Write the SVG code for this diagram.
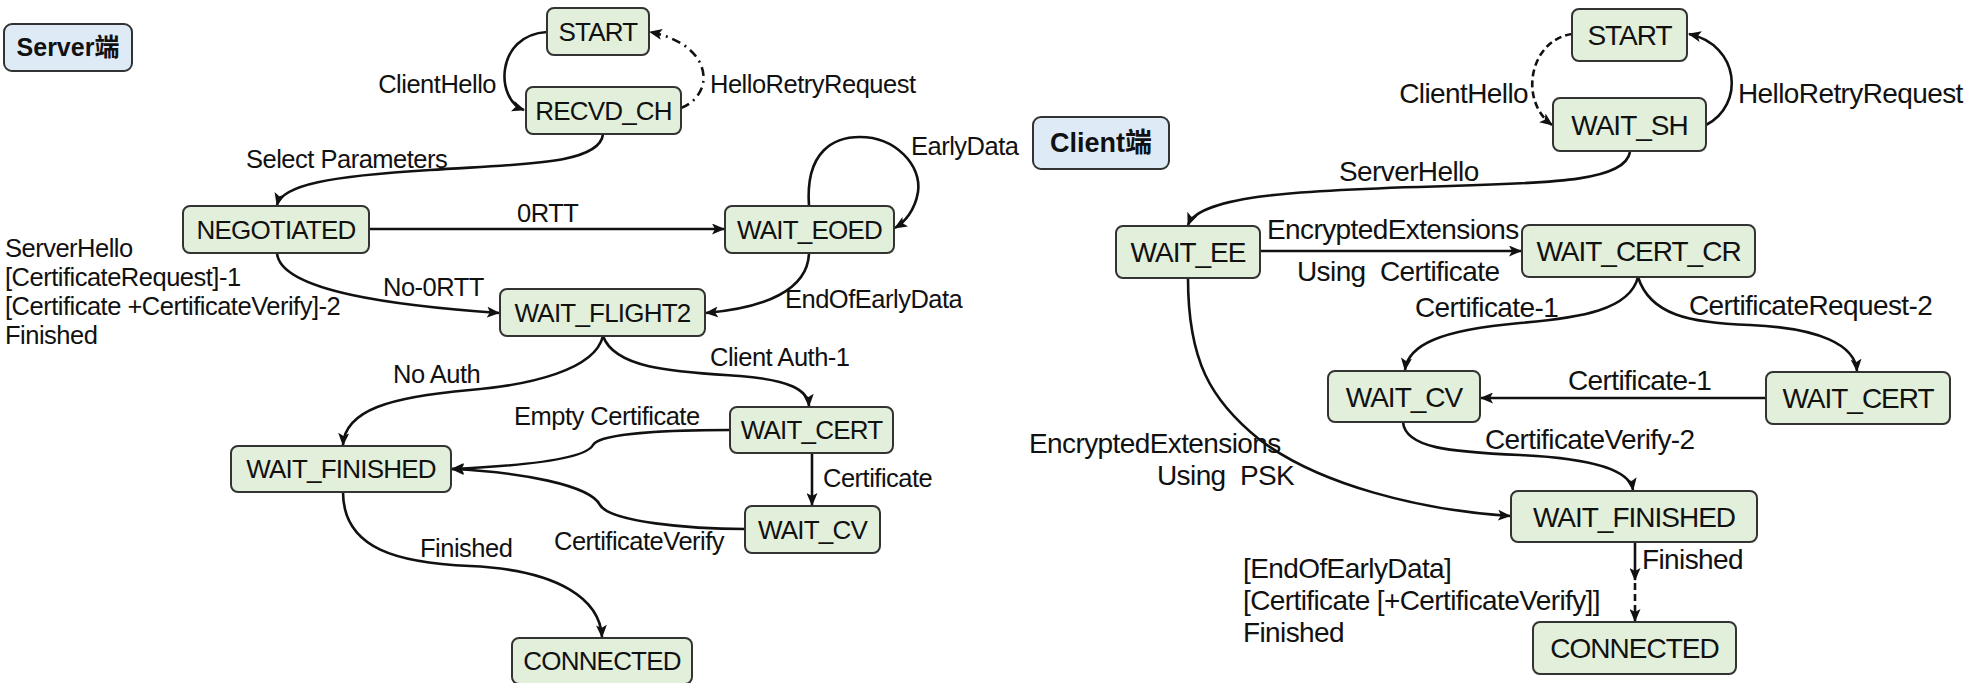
<svg xmlns="http://www.w3.org/2000/svg" width="1974" height="683" viewBox="0 0 1974 683">
<style>
text{font-family:"Liberation Sans","Noto Sans CJK SC",sans-serif;fill:#111;}
.node rect{fill:#e2efda;stroke:#333;stroke-width:2;}
.tag rect{fill:#deebf7;stroke:#333;stroke-width:2;}
.tag text{font-weight:bold;text-anchor:middle;}
.ln{font-size:26px;letter-spacing:-0.8px;text-anchor:middle;}
.rn{font-size:28px;letter-spacing:-1px;text-anchor:middle;}
.ll{font-size:25.5px;letter-spacing:-0.5px;}
.rl{font-size:28px;letter-spacing:-0.6px;white-space:pre;}
.c path{fill:none;stroke:#111;stroke-width:2.6;marker-end:url(#ah);}
.c .dd{stroke-dasharray:9 5 2 5;}
.c .ds{stroke-dasharray:7 4;}
</style>
<defs>
<marker id="ah" markerUnits="userSpaceOnUse" markerWidth="13" markerHeight="11" refX="12" refY="5.5" orient="auto">
<path d="M0,0 L13,5.5 L0,11 L3,5.5 z" fill="#111"/>
</marker>
</defs>
<rect width="1974" height="683" fill="#fff"/>

<g id="connectors" class="c">
<path d="M 547 32 C 495 35, 495 100, 524 110"/>
<path class="dd" d="M 681 108 C 715 95, 715 45, 650 32"/>
<path d="M 603 134 C 600 165, 520 164, 430 170 C 330 176, 282 185, 277 205"/>
<path d="M 369 229 L 724 229"/>
<path d="M 809 206 C 805 150, 835 137, 860 137 C 895 137, 922 165, 918 192 C 915 210, 905 222, 895 228"/>
<path d="M 277 253 C 280 292, 400 306, 499 313"/>
<path d="M 809 253 C 808 290, 765 308, 706 313"/>
<path d="M 603 336 C 595 370, 530 385, 470 390 C 390 397, 345 410, 343 445"/>
<path d="M 603 336 C 615 370, 680 372, 740 376 C 790 380, 808 390, 809 406"/>
<path d="M 730 430 C 680 430, 600 432, 593 445 C 585 460, 520 466, 452 469"/>
<path d="M 812 452 L 812 505"/>
<path d="M 745 529 C 690 529, 610 522, 600 505 C 590 485, 520 472, 452 469"/>
<path d="M 343 492 C 343 550, 400 563, 470 566 C 560 570, 600 600, 602 637"/>

<path class="ds" d="M 1572 34 C 1530 40, 1518 100, 1552 125"/>
<path d="M 1706 125 C 1745 105, 1740 45, 1689 34"/>
<path d="M 1630 152 C 1625 180, 1560 183, 1450 186 C 1300 190, 1200 195, 1188 225"/>
<path d="M 1260 251 L 1521 251"/>
<path d="M 1638 277 C 1630 310, 1580 318, 1520 323 C 1440 330, 1408 345, 1405 370"/>
<path d="M 1638 277 C 1650 315, 1690 323, 1750 325 C 1820 328, 1855 345, 1857 371"/>
<path d="M 1766 398 L 1481 398"/>
<path d="M 1403 422 C 1405 448, 1450 452, 1520 455 C 1590 458, 1630 470, 1633 490"/>
<path d="M 1188 278 C 1188 360, 1210 400, 1260 440 C 1320 485, 1420 510, 1510 516"/>
<path d="M 1635 542 L 1635 580"/>
<path class="ds" d="M 1635 583 L 1635 621"/>
</g>

<g id="edge-labels">
<text class="ll" x="496" y="93" text-anchor="end">ClientHello</text>
<text class="ll" x="710" y="93">HelloRetryRequest</text>
<text class="ll" x="246" y="168">Select Parameters</text>
<text class="ll" x="517" y="222">0RTT</text>
<text class="ll" x="911" y="155">EarlyData</text>
<text class="ll" x="383" y="296">No-0RTT</text>
<text class="ll" x="785" y="308">EndOfEarlyData</text>
<text class="ll" x="5" y="257">ServerHello</text>
<text class="ll" x="5" y="286">[CertificateRequest]-1</text>
<text class="ll" x="5" y="315">[Certificate +CertificateVerify]-2</text>
<text class="ll" x="5" y="344">Finished</text>
<text class="ll" x="393" y="383">No Auth</text>
<text class="ll" x="710" y="366">Client Auth-1</text>
<text class="ll" x="514" y="425">Empty Certificate</text>
<text class="ll" x="823" y="487">Certificate</text>
<text class="ll" x="554" y="550">CertificateVerify</text>
<text class="ll" x="420" y="557">Finished</text>

<text class="rl" x="1528" y="103" text-anchor="end">ClientHello</text>
<text class="rl" x="1738" y="103">HelloRetryRequest</text>
<text class="rl" x="1339" y="181">ServerHello</text>
<text class="rl" x="1267" y="239">EncryptedExtensions</text>
<text class="rl" x="1297" y="281">Using  Certificate</text>
<text class="rl" x="1415" y="317">Certificate-1</text>
<text class="rl" x="1689" y="315">CertificateRequest-2</text>
<text class="rl" x="1568" y="390">Certificate-1</text>
<text class="rl" x="1485" y="449">CertificateVerify-2</text>
<text class="rl" x="1029" y="453">EncryptedExtensions</text>
<text class="rl" x="1157" y="485">Using  PSK</text>
<text class="rl" x="1642" y="569">Finished</text>
<text class="rl" x="1243" y="578">[EndOfEarlyData]</text>
<text class="rl" x="1243" y="610">[Certificate [+CertificateVerify]]</text>
<text class="rl" x="1243" y="642">Finished</text>
</g>

<g id="server-tag" class="tag"><rect x="4" y="24" width="128" height="47" rx="8"/><text x="68" y="56" font-size="25">Server端</text></g>
<g id="s-start" class="node"><rect x="547" y="8" width="102" height="47" rx="7"/><text class="ln" x="598" y="40.5">START</text></g>
<g id="s-recvd-ch" class="node"><rect x="526" y="87" width="155" height="47" rx="7"/><text class="ln" x="603.5" y="119.5">RECVD_CH</text></g>
<g id="s-negotiated" class="node"><rect x="183" y="206" width="186" height="47" rx="7"/><text class="ln" x="276" y="238.5">NEGOTIATED</text></g>
<g id="s-wait-eoed" class="node"><rect x="725" y="206" width="169" height="47" rx="7"/><text class="ln" x="809.5" y="238.5">WAIT_EOED</text></g>
<g id="s-wait-flight2" class="node"><rect x="500" y="289" width="205" height="47" rx="7"/><text class="ln" x="602.5" y="321.5">WAIT_FLIGHT2</text></g>
<g id="s-wait-cert" class="node"><rect x="730" y="407" width="163" height="46" rx="7"/><text class="ln" x="811.5" y="439">WAIT_CERT</text></g>
<g id="s-wait-cv" class="node"><rect x="745" y="506" width="135" height="47" rx="7"/><text class="ln" x="812.5" y="538.5">WAIT_CV</text></g>
<g id="s-wait-finished" class="node"><rect x="231" y="446" width="220" height="46" rx="7"/><text class="ln" x="341" y="478">WAIT_FINISHED</text></g>
<g id="s-connected" class="node"><rect x="512" y="638" width="180" height="46" rx="7"/><text class="ln" x="602" y="670">CONNECTED</text></g>

<g id="client-tag" class="tag"><rect x="1033" y="117" width="136" height="52" rx="8"/><text x="1101" y="152" font-size="27">Client端</text></g>
<g id="c-start" class="node"><rect x="1572" y="9" width="115" height="52" rx="7"/><text class="rn" x="1629.5" y="45">START</text></g>
<g id="c-wait-sh" class="node"><rect x="1553" y="98" width="153" height="53" rx="7"/><text class="rn" x="1629.5" y="134.5">WAIT_SH</text></g>
<g id="c-wait-ee" class="node"><rect x="1116" y="226" width="144" height="52" rx="7"/><text class="rn" x="1188" y="262">WAIT_EE</text></g>
<g id="c-wait-cert-cr" class="node"><rect x="1522" y="225" width="233" height="52" rx="7"/><text class="rn" x="1638.5" y="261">WAIT_CERT_CR</text></g>
<g id="c-wait-cv" class="node"><rect x="1328" y="371" width="152" height="51" rx="7"/><text class="rn" x="1404" y="406.5">WAIT_CV</text></g>
<g id="c-wait-cert" class="node"><rect x="1766" y="372" width="184" height="52" rx="7"/><text class="rn" x="1858" y="408">WAIT_CERT</text></g>
<g id="c-wait-finished" class="node"><rect x="1511" y="491" width="246" height="51" rx="7"/><text class="rn" x="1634" y="526.5">WAIT_FINISHED</text></g>
<g id="c-connected" class="node"><rect x="1533" y="622" width="203" height="52" rx="7"/><text class="rn" x="1634.5" y="658">CONNECTED</text></g>
</svg>
